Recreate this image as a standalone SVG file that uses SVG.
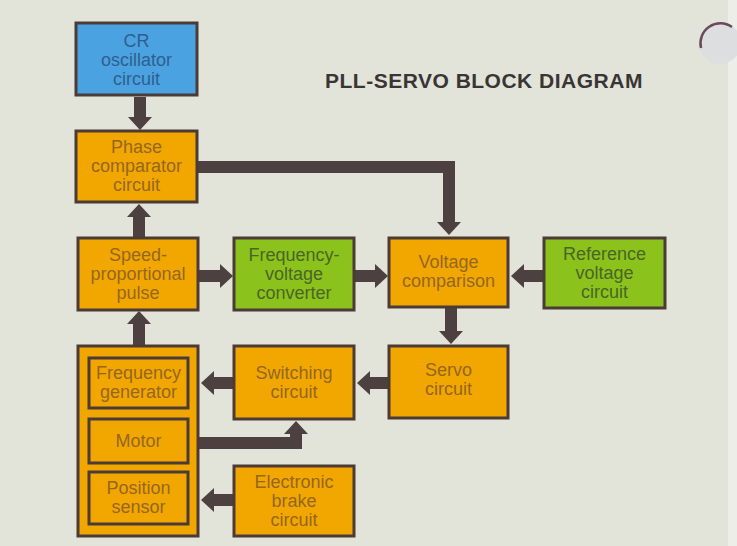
<svg xmlns="http://www.w3.org/2000/svg" width="737" height="546" viewBox="0 0 737 546">
<style>
.box{stroke:#4a3b36;stroke-width:3}
.o{fill:#f2a600}
.b{fill:#4aa3e0}
.g{fill:#8cc21c}
text{font-family:"Liberation Sans",Arial,sans-serif;font-size:18px;text-anchor:middle}
.to{fill:#956620}
.tb{fill:#2f5f8f}
.tg{fill:#4a6526}
.title{font-size:21px;font-weight:bold;fill:#3a3535;text-anchor:start;letter-spacing:0.5px}
.c{fill:none;stroke:#4d4040;stroke-width:12;stroke-linejoin:miter;stroke-linecap:butt;marker-end:url(#ah)}
</style>
<defs>
<marker id="ah" markerUnits="userSpaceOnUse" markerWidth="14" markerHeight="26" refX="0" refY="13" orient="auto">
<path d="M0,1 L13,13 L0,25 Z" fill="#4d4040"/>
</marker>
</defs>
<rect x="0" y="0" width="737" height="546" fill="#e2e3d9"/>
<rect x="728" y="0" width="9" height="546" fill="#eeeee8"/>
<circle cx="720" cy="43" r="21" fill="#dcdee0"/>
<path d="M701,48 A20,20 0 0 1 732,27" fill="none" stroke="#6a4a5a" stroke-width="2.5"/>
<text class="title" x="325" y="88">PLL-SERVO BLOCK DIAGRAM</text>

<g id="connectors">
<path class="c" d="M140,97 V117"/>
<path class="c" d="M139,237 V217"/>
<path class="c" d="M139,345 V324"/>
<path class="c" d="M199,276 H220"/>
<path class="c" d="M355,276 H375"/>
<path class="c" d="M543,276 H524"/>
<path class="c" d="M198,167 H449 V222"/>
<path class="c" d="M451,308 V331"/>
<path class="c" d="M388,383 H370"/>
<path class="c" d="M233,383 H214"/>
<path class="c" d="M199,443 H296 V434"/>
<path class="c" d="M233,500 H214"/>
</g>

<g id="cr-oscillator">
<rect class="box b" x="76" y="23" width="121" height="72"/>
<text class="tb" x="136.5" y="47">CR</text>
<text class="tb" x="136.5" y="66">oscillator</text>
<text class="tb" x="136.5" y="85">circuit</text>
</g>
<g id="phase-comparator">
<rect class="box o" x="76" y="131" width="121" height="71"/>
<text class="to" x="136.5" y="153">Phase</text>
<text class="to" x="136.5" y="172">comparator</text>
<text class="to" x="136.5" y="191">circuit</text>
</g>
<g id="speed-pulse">
<rect class="box o" x="78" y="238" width="120" height="72"/>
<text class="to" x="138" y="261">Speed-</text>
<text class="to" x="138" y="280">proportional</text>
<text class="to" x="138" y="299">pulse</text>
</g>
<g id="fv-converter">
<rect class="box g" x="234" y="238" width="120" height="72"/>
<text class="tg" x="294" y="261">Frequency-</text>
<text class="tg" x="294" y="280">voltage</text>
<text class="tg" x="294" y="299">converter</text>
</g>
<g id="voltage-comparison">
<rect class="box o" x="389" y="238" width="119" height="69"/>
<text class="to" x="448.5" y="268">Voltage</text>
<text class="to" x="448.5" y="287">comparison</text>
</g>
<g id="reference-voltage">
<rect class="box g" x="544" y="238" width="121" height="70"/>
<text class="tg" x="604.5" y="260">Reference</text>
<text class="tg" x="604.5" y="279">voltage</text>
<text class="tg" x="604.5" y="298">circuit</text>
</g>
<g id="servo-circuit">
<rect class="box o" x="389" y="346" width="119" height="72"/>
<text class="to" x="448.5" y="376">Servo</text>
<text class="to" x="448.5" y="395">circuit</text>
</g>
<g id="switching-circuit">
<rect class="box o" x="234" y="346" width="120" height="73"/>
<text class="to" x="294" y="379">Switching</text>
<text class="to" x="294" y="398">circuit</text>
</g>
<g id="motor-assembly">
<rect class="box o" x="78" y="346" width="120" height="190"/>
<g id="frequency-generator">
<rect class="box o" x="89" y="358" width="99" height="50"/>
<text class="to" x="138.5" y="379">Frequency</text>
<text class="to" x="138.5" y="398">generator</text>
</g>
<g id="motor">
<rect class="box o" x="89" y="419" width="99" height="44"/>
<text class="to" x="138.5" y="447">Motor</text>
</g>
<g id="position-sensor">
<rect class="box o" x="89" y="472" width="99" height="52"/>
<text class="to" x="138.5" y="494">Position</text>
<text class="to" x="138.5" y="513">sensor</text>
</g>
</g>
<g id="electronic-brake">
<rect class="box o" x="234" y="466" width="120" height="70"/>
<text class="to" x="294" y="488">Electronic</text>
<text class="to" x="294" y="507">brake</text>
<text class="to" x="294" y="526">circuit</text>
</g>
</svg>
